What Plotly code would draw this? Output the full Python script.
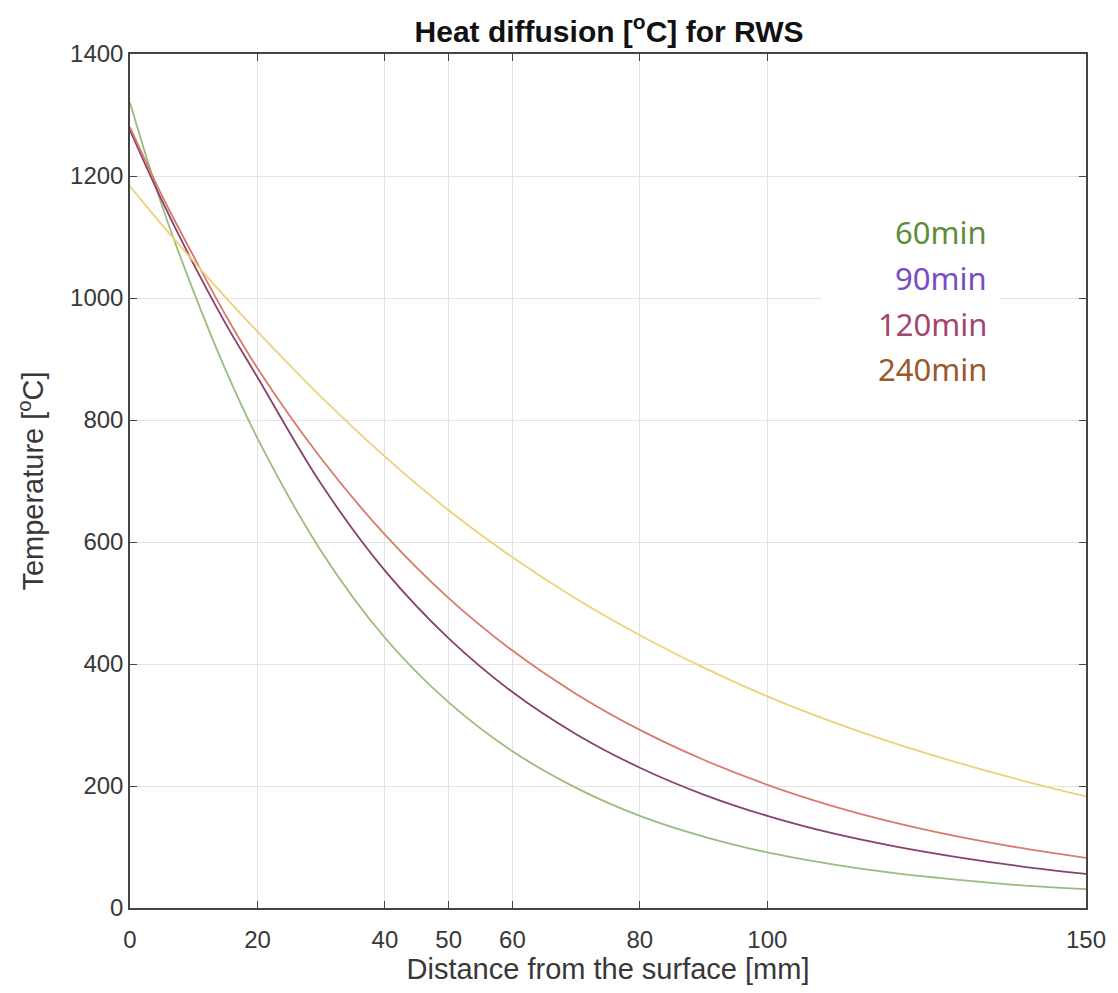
import plotly.graph_objects as go

# Distance from the exposed surface [mm]
distance_mm = [0, 5, 10, 15, 20, 30, 40, 50, 60, 70, 80, 90, 100, 110, 120, 130, 140, 150]

# Temperature profiles [°C] after each fire duration
temp_60 = [1320, 1152, 1010, 882, 770, 585, 443, 337, 257, 197, 151, 117, 91, 72, 57, 46, 37, 31]
temp_90 = [1275, 1160, 1055, 958, 870, 695, 553, 442, 354, 285, 230, 186, 151, 123, 101, 83, 68, 56]
temp_120 = [1280, 1168, 1068, 972, 885, 737, 612, 508, 422, 351, 292, 243, 202, 168, 140, 117, 98, 82]
temp_240 = [1183, 1120, 1060, 1001, 945, 838, 740, 652, 575, 507, 447, 394, 347, 306, 270, 238, 209, 183]

series_names = ["60min", "90min", "120min", "240min"]
line_colors = ["#9cbc7e", "#86426f", "#d97a6c", "#ecd27a"]
label_colors = ["#5f8c3c", "#7a4cc4", "#a3456f", "#99592a"]

x_ticks = [0, 20, 40, 50, 60, 80, 100, 150]
y_ticks = [0, 200, 400, 600, 800, 1000, 1200, 1400]

fig = go.Figure()
for name, temps, color in zip(series_names, [temp_60, temp_90, temp_120, temp_240], line_colors):
    fig.add_trace(go.Scatter(
        x=distance_mm, y=temps, mode="lines", name=name,
        line=dict(color=color, width=1.8, shape="spline", smoothing=1.0),
    ))

# Text legend at the right, on a white patch that hides the gridline
fig.add_shape(type="rect", xref="x", yref="y", x0=108.5, x1=136.5, y0=850, y1=1150,
              fillcolor="white", line=dict(width=0), layer="between")
for i, (name, color) in enumerate(zip(series_names, label_colors)):
    fig.add_annotation(
        x=134.8, y=1108 - i * 75, xref="x", yref="y", text=name, showarrow=False,
        xanchor="right", yanchor="middle",
        font=dict(family="Noto Sans, Open Sans, sans-serif", size=31, color=color),
    )

tick_font = dict(family="Liberation Sans, Arial, sans-serif", size=24, color="#383838")
title_font = dict(family="Liberation Sans, Arial, sans-serif", size=29, color="#383838")

fig.update_layout(
    width=1118, height=993,
    margin=dict(l=130, r=30, t=54, b=85),
    paper_bgcolor="white", plot_bgcolor="white",
    showlegend=False,
    title=dict(
        text="<b>Heat diffusion [<sup>o</sup>C] for RWS</b>",
        x=609 / 1118, xanchor="center", y=1 - 31 / 993, yanchor="middle",
        font=dict(family="Liberation Sans, Arial, sans-serif", size=30, color="#111111"),
    ),
    xaxis=dict(
        range=[0, 150], tickmode="array", tickvals=x_ticks,
        showgrid=True, gridcolor="#e3e3e3", gridwidth=1,
        zeroline=False, showline=True, linecolor="#444444", linewidth=1.5, mirror="ticks",
        ticks="inside", ticklen=7, tickcolor="#444444", tickwidth=1.2,
        tickfont=tick_font, ticklabelstandoff=9,
        title=dict(text="Distance from the surface [mm]", font=title_font, standoff=6),
    ),
    yaxis=dict(
        range=[0, 1400], tickmode="array", tickvals=y_ticks,
        showgrid=True, gridcolor="#e3e3e3", gridwidth=1,
        zeroline=False, showline=True, linecolor="#444444", linewidth=1.5, mirror="ticks",
        ticks="inside", ticklen=7, tickcolor="#444444", tickwidth=1.2,
        tickfont=tick_font,
        title=dict(text="Temperature [<sup>o</sup>C]", font=title_font, standoff=18),
    ),
)

fig.write_html("out.html")
